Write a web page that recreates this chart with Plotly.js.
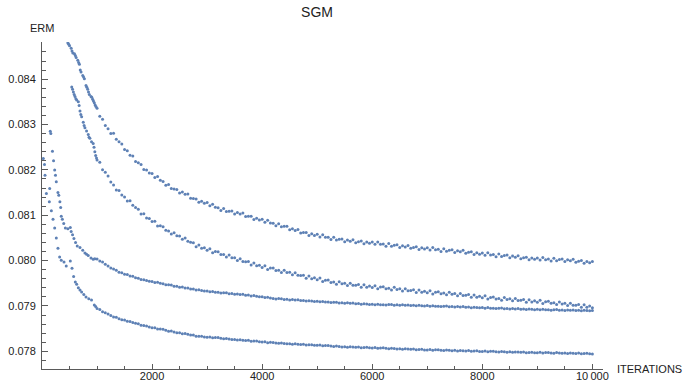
<!DOCTYPE html>
<html>
<head>
<meta charset="utf-8">
<script src="https://cdn.plot.ly/plotly-3.0.1.min.js"></script>
<style>html,body{margin:0;padding:0;background:#fff;}#chart{width:688px;height:384px;}</style>
</head>
<body>
<div id="chart"></div>
<script>
// ---- data (ERM vs iterations, four SGM runs) ----
const lateIters = [
1000,1050,1100,1150,1200,1250,1300,1350,1400,1450,1500,1550,1600,1650,1700,1750,1800,1850,1900,1950,
2000,2050,2100,2150,2200,2250,2300,2350,2400,2450,2500,2550,2600,2650,2700,2750,2800,2850,2900,2950,
3000,3050,3100,3150,3200,3250,3300,3350,3400,3450,3500,3550,3600,3650,3700,3750,3800,3850,3900,3950,
4000,4050,4100,4150,4200,4250,4300,4350,4400,4450,4500,4550,4600,4650,4700,4750,4800,4850,4900,4950,
5000,5050,5100,5150,5200,5250,5300,5350,5400,5450,5500,5550,5600,5650,5700,5750,5800,5850,5900,5950,
6000,6050,6100,6150,6200,6250,6300,6350,6400,6450,6500,6550,6600,6650,6700,6750,6800,6850,6900,6950,
7000,7050,7100,7150,7200,7250,7300,7350,7400,7450,7500,7550,7600,7650,7700,7750,7800,7850,7900,7950,
8000,8050,8100,8150,8200,8250,8300,8350,8400,8450,8500,8550,8600,8650,8700,8750,8800,8850,8900,8950,
9000,9050,9100,9150,9200,9250,9300,9350,9400,9450,9500,9550,9600,9650,9700,9750,9800,9850,9900,9950,
10000];

const runAEarlyIters = [470,485,500,530,545,560,590,605,620,650,665,680,695,710,740,755,770,800,815,830,845,860,890,905,920,935,950,965,980];
const runAEarlyVals = [0.0848,0.08477,0.08474,0.08468,0.08462,0.08458,0.08456,0.08452,0.08448,0.08442,0.08437,0.08433,0.0842,0.08416,0.08408,0.08405,0.08401,0.08386,0.08382,0.08378,0.08372,0.08366,0.08362,0.0836,0.08356,0.08352,0.08348,0.08343,0.0834];
const runALateVals = [
0.08336,0.083185,0.083115,0.08298,0.082905,0.082805,0.08281,0.082675,0.08262,0.08257,0.08245,0.08242,0.082325,0.082305,0.082185,0.082155,0.08212,0.08201,0.082,0.08193,
0.08192,0.081835,0.081855,0.08177,0.081745,0.08166,0.08168,0.08159,0.08158,0.08157,0.08149,0.08151,0.081465,0.08147,0.081375,0.08137,0.08136,0.081285,0.08131,0.081265,
0.08128,0.08121,0.081245,0.081175,0.081165,0.081105,0.08115,0.08108,0.08109,0.081093,0.081025,0.081058,0.081025,0.081048,0.08097,0.080978,0.08098,0.080908,0.080935,0.080893,
0.08091,0.080848,0.08089,0.080828,0.080825,0.080768,0.080815,0.080748,0.08076,0.080755,0.08068,0.080705,0.080665,0.080688,0.08061,0.080618,0.08062,0.080555,0.08059,0.080555,
0.08058,0.080523,0.08057,0.080513,0.080515,0.080463,0.080515,0.080453,0.08047,0.080478,0.080415,0.080453,0.080425,0.08046,0.080395,0.080415,0.08043,0.08037,0.08041,0.08038,
0.08041,0.080358,0.08041,0.080358,0.080365,0.080318,0.080375,0.080318,0.08034,0.080349,0.080288,0.080327,0.0803,0.080335,0.08027,0.08029,0.080305,0.080245,0.080285,0.080255,
0.080285,0.080235,0.08029,0.08024,0.08025,0.080203,0.080262,0.080206,0.08023,0.08024,0.08018,0.08022,0.080195,0.080229,0.080163,0.080182,0.080195,0.080133,0.080172,0.080141,
0.08017,0.08012,0.080174,0.080124,0.080133,0.080087,0.080146,0.08009,0.080115,0.080123,0.080062,0.080101,0.080075,0.080109,0.080043,0.080062,0.080075,0.080017,0.080058,0.080029,
0.08006,0.080012,0.080069,0.080021,0.080033,0.07999,0.080051,0.079998,0.080025,0.080037,0.079978,0.080019,0.079995,0.08003,0.079965,0.079985,0.08,0.07994,0.07998,0.07995,
0.07998];

const runBEarlyIters = [540,555,570,585,600,615,630,660,675,690,705,720,750,765,780,810,840,855,870,900,930,945,960,975,990];
const runBEarlyVals = [0.08383,0.08378,0.08372,0.08366,0.08362,0.08357,0.08354,0.0835,0.08342,0.0833,0.08322,0.08317,0.08305,0.08298,0.08293,0.08286,0.08278,0.08272,0.0827,0.08262,0.08258,0.0825,0.0824,0.08232,0.08226];
const runBLateVals = [
0.08222,0.08217,0.082005,0.08195,0.081865,0.081735,0.081665,0.081555,0.081545,0.081445,0.081405,0.081315,0.08132,0.08122,0.08117,0.081135,0.081025,0.081035,0.08094,0.08093,
0.08086,0.08087,0.080765,0.08077,0.080745,0.08067,0.080655,0.080585,0.080615,0.080548,0.08054,0.080473,0.0805,0.080428,0.080405,0.080393,0.080305,0.080343,0.080275,0.080283,
0.08023,0.08026,0.080175,0.0802,0.080195,0.080135,0.080135,0.08008,0.080125,0.080065,0.080065,0.080005,0.08004,0.079983,0.079975,0.079978,0.079905,0.079948,0.079885,0.079898,
0.07985,0.079886,0.079806,0.079837,0.079837,0.079783,0.079788,0.079739,0.07979,0.079737,0.079743,0.079689,0.07973,0.079676,0.079672,0.079679,0.07961,0.079659,0.079602,0.079621,
0.07958,0.079616,0.079537,0.079569,0.07957,0.079519,0.079527,0.079481,0.079535,0.079488,0.0795,0.079453,0.0795,0.079454,0.079458,0.079472,0.07941,0.079465,0.079415,0.07944,
0.079405,0.079448,0.079377,0.079416,0.079425,0.079379,0.079393,0.079351,0.07941,0.079363,0.079377,0.079331,0.07938,0.079335,0.07934,0.079355,0.079295,0.07935,0.0793,0.079325,
0.07929,0.079335,0.079265,0.079305,0.079315,0.07927,0.079285,0.079245,0.079305,0.079259,0.079273,0.079227,0.079275,0.07923,0.079235,0.07925,0.07919,0.079243,0.079192,0.079216,
0.07918,0.079223,0.079151,0.079189,0.079197,0.079152,0.079166,0.079125,0.079185,0.079141,0.079157,0.079113,0.079165,0.07912,0.079126,0.079142,0.079083,0.079138,0.079089,0.079115,
0.07908,0.079125,0.079055,0.079095,0.079105,0.079059,0.079073,0.079032,0.07909,0.079043,0.079057,0.079011,0.07906,0.079014,0.079018,0.079032,0.07897,0.079024,0.078973,0.078997,
0.078961];

const runCEarlyIters = [150,160,190,210,230,245,260,290,305,325,340,350,370,395,425,470,515,530,555,580,610,640,690,740,780,810,840,890,930,960];
const runCEarlyVals = [0.08285,0.0828,0.08241,0.0822,0.082,0.08188,0.08174,0.0815,0.08144,0.0813,0.08117,0.08098,0.08091,0.08082,0.08072,0.0807,0.08073,0.08064,0.08057,0.08049,0.0804,0.08032,0.08029,0.08023,0.08017,0.08014,0.08011,0.08006,0.08003,0.08004];
const runCLateVals = [
0.080035,0.079989,0.079968,0.079917,0.07988,0.079837,0.079814,0.079787,0.079745,0.07973,0.079698,0.079691,0.079663,0.079653,0.079621,0.079611,0.079582,0.07958,0.07956,0.079543,
0.07954,0.079518,0.07952,0.079498,0.07949,0.07947,0.079469,0.07946,0.079435,0.079432,0.079413,0.079416,0.079398,0.079398,0.079376,0.079373,0.079352,0.079356,0.079342,0.079329,
0.07933,0.079313,0.07932,0.079303,0.0793,0.079286,0.079292,0.079289,0.07927,0.079272,0.079258,0.079266,0.079253,0.079257,0.079238,0.079239,0.079222,0.079228,0.079215,0.079203,
0.079205,0.079186,0.079192,0.079173,0.079167,0.079155,0.079162,0.079161,0.079144,0.079147,0.079133,0.079142,0.07913,0.079136,0.07912,0.079123,0.079108,0.079117,0.079108,0.079099,
0.079105,0.079091,0.079101,0.079087,0.079086,0.079075,0.079083,0.079083,0.079067,0.079071,0.079058,0.079068,0.079057,0.079064,0.079049,0.079053,0.079039,0.079049,0.079041,0.079033,
0.07904,0.079028,0.07904,0.079028,0.079029,0.07902,0.07903,0.079032,0.079018,0.079024,0.079013,0.079025,0.079015,0.079023,0.079009,0.079015,0.079002,0.079013,0.079006,0.079,
0.079008,0.078995,0.079007,0.078995,0.078996,0.078986,0.078996,0.078998,0.078984,0.078989,0.078978,0.078989,0.078978,0.078986,0.078971,0.078976,0.078962,0.078973,0.078965,0.078958,
0.078965,0.078952,0.078964,0.078951,0.078952,0.078942,0.078952,0.078953,0.078939,0.078944,0.078933,0.078944,0.078934,0.078943,0.078929,0.078934,0.078921,0.078933,0.078926,0.078919,
0.078927,0.078915,0.078927,0.078915,0.078916,0.078907,0.078918,0.07892,0.078906,0.078912,0.078901,0.078913,0.078903,0.078912,0.078899,0.078905,0.078892,0.078904,0.078898,0.078892,
0.0789];

const runDEarlyIters = [24,45,55,80,133,140,170,200,230,260,290,320,350,400,440,515,545,575,605,630,660,690,720,760,800,850,900,950,975];
const runDEarlyVals = [0.08225,0.08212,0.08188,0.08148,0.0813,0.08159,0.0811,0.08091,0.08072,0.0805,0.08027,0.08008,0.08001,0.07997,0.07988,0.07999,0.07983,0.07965,0.07953,0.07948,0.0794,0.07935,0.07931,0.07925,0.0792,0.07916,0.07913,0.07902,0.07899];
const runDLateVals = [
0.078946,0.078921,0.078872,0.078851,0.078822,0.078788,0.078759,0.078751,0.07872,0.078698,0.078689,0.078662,0.078657,0.078638,0.078617,0.078609,0.078576,0.078567,0.078558,0.078535,
0.078521,0.078519,0.078492,0.078492,0.078485,0.078462,0.078444,0.078446,0.078425,0.07841,0.078409,0.078388,0.07839,0.078376,0.078359,0.078359,0.078334,0.078334,0.078333,0.078317,
0.078311,0.078316,0.078297,0.078303,0.078302,0.078287,0.078276,0.078284,0.07827,0.07826,0.078263,0.078247,0.078253,0.078246,0.078236,0.078243,0.078224,0.078225,0.078225,0.07821,
0.078204,0.07821,0.078191,0.078198,0.078197,0.078184,0.078176,0.078186,0.078173,0.078164,0.078169,0.078155,0.078164,0.078158,0.07815,0.078158,0.078141,0.078144,0.078147,0.078134,
0.078131,0.078138,0.07812,0.078127,0.078127,0.078115,0.078107,0.078117,0.078105,0.078097,0.078102,0.078089,0.078099,0.078094,0.078087,0.078096,0.07808,0.078084,0.078088,0.078076,
0.078074,0.078082,0.078065,0.078074,0.078076,0.078065,0.078058,0.07807,0.07806,0.078053,0.078059,0.078046,0.078056,0.078051,0.078043,0.078052,0.078036,0.07804,0.078043,0.078031,
0.078029,0.078038,0.078022,0.078032,0.078034,0.078024,0.078018,0.078031,0.078021,0.078015,0.078022,0.078009,0.078019,0.078015,0.078008,0.078017,0.078001,0.078006,0.07801,0.077998,
0.077996,0.078005,0.077989,0.077999,0.078001,0.077991,0.077985,0.077998,0.077988,0.077982,0.077989,0.077977,0.077987,0.077983,0.077977,0.077987,0.077971,0.077976,0.077981,0.07797,
0.077968,0.077977,0.077962,0.077972,0.077974,0.077964,0.077959,0.077972,0.077962,0.077956,0.077964,0.077952,0.077962,0.077958,0.077951,0.077961,0.077946,0.077951,0.077955,0.077944,
0.077942];

const xTickVals = [2000, 4000, 6000, 8000, 10000];
const xTickText = ['2000', '4000', '6000', '8000', '10\u2009000'];
const yTickVals = [0.078, 0.079, 0.080, 0.081, 0.082, 0.083, 0.084];
const yTickText = ['0.078', '0.079', '0.080', '0.081', '0.082', '0.083', '0.084'];

// ---- build traces ----
const runs = [
  [runAEarlyIters, runAEarlyVals, runALateVals],
  [runBEarlyIters, runBEarlyVals, runBLateVals],
  [runCEarlyIters, runCEarlyVals, runCLateVals],
  [runDEarlyIters, runDEarlyVals, runDLateVals]
];
const dotColor = '#5E81B5';
const traces = runs.map(r => ({
  type: 'scatter',
  mode: 'markers',
  x: r[0].concat(lateIters),
  y: r[1].concat(r[2]),
  marker: {color: dotColor, size: 3, line: {width: 0}},
  cliponaxis: true,
  hoverinfo: 'skip'
}));

const axisColor = '#5a5a5a';
const textFont = {family: 'Liberation Sans, Arial, Helvetica, sans-serif', size: 11, color: '#222'};

const layout = {
  width: 688, height: 384,
  margin: {l: 42, r: 85, t: 42, b: 15, pad: 0},
  paper_bgcolor: '#fff', plot_bgcolor: '#fff',
  showlegend: false,
  font: textFont,
  title: {text: 'SGM', x: 317/688, xref: 'container', xanchor: 'center',
          y: 1 - 12/384, yref: 'container', yanchor: 'middle',
          font: {family: textFont.family, size: 14, color: '#222'}},
  xaxis: {
    range: [0, 10193], showgrid: false, zeroline: false,
    showline: true, linecolor: axisColor, linewidth: 1,
    tickmode: 'array', tickvals: xTickVals, ticktext: xTickText,
    ticks: 'inside', ticklen: 5, tickwidth: 1, tickcolor: axisColor,
    tickfont: textFont, ticklabelstandoff: -3,
    minor: {tickmode: 'linear', tick0: 0, dtick: 500, ticks: 'inside', ticklen: 3, tickwidth: 1, tickcolor: axisColor, showgrid: false}
  },
  yaxis: {
    range: [0.07761, 0.08482], showgrid: false, zeroline: false,
    showline: true, linecolor: axisColor, linewidth: 1,
    tickmode: 'array', tickvals: yTickVals, ticktext: yTickText,
    ticks: 'inside', ticklen: 6, tickwidth: 1, tickcolor: axisColor,
    tickfont: textFont, ticklabelstandoff: 3,
    minor: {tickmode: 'linear', tick0: 0.078, dtick: 0.0002, ticks: 'inside', ticklen: 3.5, tickwidth: 1, tickcolor: axisColor, showgrid: false}
  },
  annotations: [
    {text: 'ERM', xref: 'paper', x: 0, xanchor: 'center', yref: 'paper', y: 1, yanchor: 'middle', yshift: 14,
     showarrow: false, font: textFont},
    {text: 'ITERATIONS', xref: 'paper', x: 1, xanchor: 'left', xshift: 12, yref: 'paper', y: 0, yanchor: 'middle',
     showarrow: false, font: textFont}
  ]
};

Plotly.newPlot('chart', traces, layout, {displayModeBar: false, staticPlot: true});
</script>
</body>
</html>
